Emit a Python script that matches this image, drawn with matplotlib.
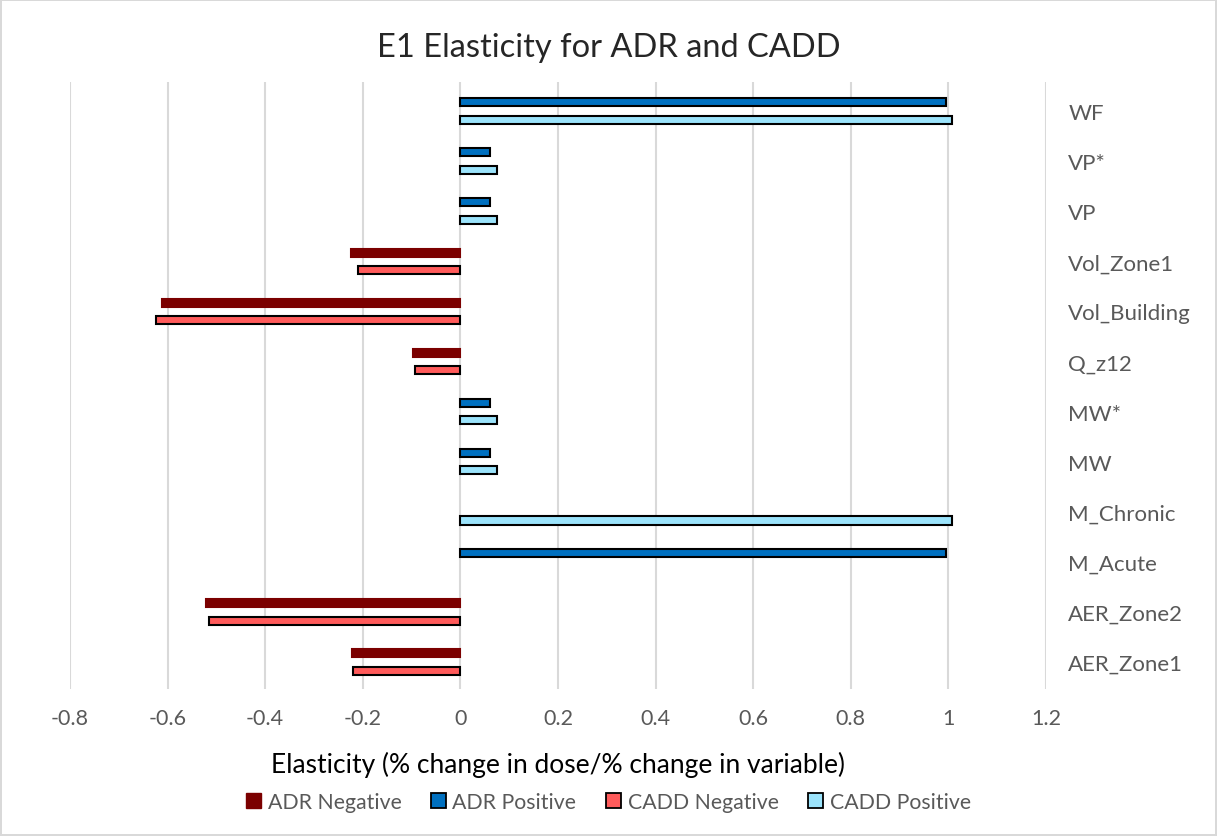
import numpy as np
import matplotlib
matplotlib.use("Agg")
import matplotlib.pyplot as plt
from matplotlib.patches import Patch

plt.rcParams["font.family"] = ["Lato", "DejaVu Sans"]

# categories from bottom to top
categorias = ["AER_Zone1", "AER_Zone2", "M_Acute", "M_Chronic", "MW", "MW*",
              "Q_z12", "Vol_Building", "Vol_Zone1", "VP", "VP*", "WF"]

adr_neg = [-0.222, -0.522, 0, 0, 0, 0, -0.097, -0.611, -0.225, 0, 0, 0]
adr_pos = [0, 0, 0.995, 0, 0.06, 0.06, 0, 0, 0, 0.06, 0.06, 0.995]
cadd_neg = [-0.221, -0.516, 0, 0, 0, 0, -0.094, -0.623, -0.21, 0, 0, 0]
cadd_pos = [0, 0, 0, 1.008, 0.076, 0.076, 0, 0, 0, 0.076, 0.076, 1.008]

xticks = [-0.8, -0.6, -0.4, -0.2, 0, 0.2, 0.4, 0.6, 0.8, 1, 1.2]

C_ADR_NEG, C_ADR_POS = "#7B0000", "#0070C0"
C_CADD_NEG, C_CADD_POS = "#FF5B5B", "#9BE3FB"
GRIS = "#595959"

fig = plt.figure(figsize=(12.17, 8.37), dpi=100)
fig.patch.set_edgecolor("#D9D9D9")
fig.patch.set_linewidth(1.5)
ax = fig.add_axes([0.0575, 0.1756, 0.802, 0.7252])

y = np.arange(len(categorias))
alto = 0.16
desp = 0.175


def barras(vals, pos, color, borde):
    vals = np.array(vals, dtype=float)
    m = vals != 0
    ax.barh(pos[m], vals[m], height=alto, color=color,
            edgecolor=borde, linewidth=1.5, zorder=3)


barras(adr_neg, y + desp, C_ADR_NEG, C_ADR_NEG)
barras(adr_pos, y + desp, C_ADR_POS, "black")
barras(cadd_neg, y - desp, C_CADD_NEG, "black")
barras(cadd_pos, y - desp, C_CADD_POS, "black")

ax.set_xlim(-0.8, 1.2)
ax.set_ylim(-0.54, 11.58)
ax.set_xticks(xticks)
ax.set_xticklabels([f"{v:g}" for v in xticks], fontsize=15.5, color=GRIS)
ax.tick_params(axis="x", length=0, pad=14)

ax.yaxis.tick_right()
ax.set_yticks(y)
ax.set_yticklabels(categorias, fontsize=16, color=GRIS, ha="left")
ax.tick_params(axis="y", length=0, pad=16)

ax.grid(axis="x", color="#D9D9D9", linewidth=1.5, zorder=0)
ax.set_axisbelow(True)
for s in ax.spines.values():
    s.set_visible(False)

fig.text(0.5, 0.943, "E1 Elasticity for ADR and CADD", fontsize=23.5,
         color="#262626", ha="center", va="center")
ax.set_xlabel("Elasticity (% change in dose/% change in variable)",
              fontsize=19, color="black", labelpad=16)

handles = [
    Patch(facecolor=C_ADR_NEG, edgecolor=C_ADR_NEG, label="ADR Negative"),
    Patch(facecolor=C_ADR_POS, edgecolor="black", linewidth=1.3, label="ADR Positive"),
    Patch(facecolor=C_CADD_NEG, edgecolor="black", linewidth=1.3, label="CADD Negative"),
    Patch(facecolor=C_CADD_POS, edgecolor="black", linewidth=1.3, label="CADD Positive"),
]
leg = fig.legend(handles=handles, loc="center", bbox_to_anchor=(0.5, 0.041),
                 ncol=4, frameon=False, fontsize=15.3, handlelength=0.7,
                 handleheight=0.7, handletextpad=0.3, columnspacing=1.4)
for t in leg.get_texts():
    t.set_color(GRIS)

fig.savefig("out.png", dpi=100)
